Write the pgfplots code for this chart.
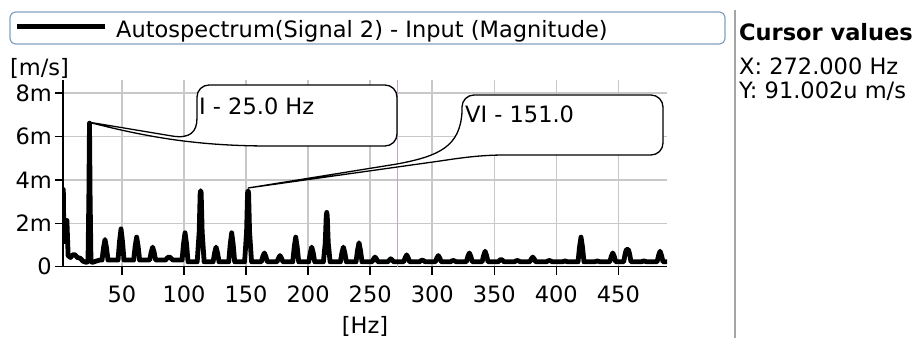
\documentclass[border=0pt]{standalone}
\usepackage{fontspec}
\setmainfont{DejaVu Sans}
\usepackage{pgfplots}
\pgfplotsset{compat=1.18}
\definecolor{gridc}{RGB}{200,200,200}
\definecolor{legbord}{RGB}{130,160,190}
\definecolor{cursc}{RGB}{200,160,200}
\definecolor{sepc}{RGB}{165,165,165}
\newcommand{\fs}{\fontsize{22.5bp}{27bp}\selectfont}
\begin{document}
\begin{tikzpicture}
\path[use as bounding box] (0bp,0bp) rectangle (920bp,338bp);
\begin{axis}[
  at={(63bp,71.4bp)}, anchor=south west,
  scale only axis, width=604bp, height=186.6bp,
  xmin=2.45, xmax=489.2, ymin=0, ymax=8.61,
  axis lines=left, axis line style={-, line width=1.5bp, black},
  xtick={50,100,...,450}, ytick={0,2,4,6,8},
  yticklabels={0,2m,4m,6m,8m},
  grid=major, major grid style={gridc, line width=1.5bp},
  tick align=outside, major tick length=8bp,
  tick style={black, line width=1.5bp},
  ticklabel style={font=\fs},
  /pgf/number format/assume math mode=true,
  xticklabel style={anchor=base, inner sep=0pt, yshift=-27.4bp},
  yticklabel style={anchor=east, inner sep=0pt, xshift=-3bp},
]
\draw[cursc, line width=0.9bp] (axis cs:272,0) -- (axis cs:272,8.61);
\addplot[black, line width=4.8bp, line join=round, line cap=round] coordinates {
(2.0,3.56) (2.7,3.56) (3.2,1.15) (4.0,1.3) (5.0,2.13) (5.6,2.13) (6.6,0.5) (8.5,0.42) (10.5,0.55) (12,0.55) (14,0.42) (16.5,0.38) (18.5,0.25) (21,0.2) (22.6,0.22) (23.3,3.2) (23.8,6.62) (24.3,3.2) (25,0.22) (26.5,0.2) (29,0.25) (32,0.3) (33.9,0.3) (35.1,0.87) (36.3,1.25) (37.5,0.87) (38.7,0.3)
(46.8,0.3) (48.0,1.16) (49.2,1.74) (50.4,1.16) (51.6,0.3)
(59.4,0.3) (60.6,0.94) (61.8,1.36) (63.0,0.94) (64.2,0.3)
(72.3,0.3) (73.5,0.66) (74.7,0.9) (75.9,0.66) (77.1,0.3)
(85,0.3) (86.5,0.4) (87.9,0.45) (89.3,0.4) (91,0.3)
(98.4,0.3) (99.6,1.06) (100.8,1.56) (102.0,1.06) (103.2,0.22)
(110.6,0.22) (112.2,1.6) (113.0,3.4) (113.4,3.5) (113.8,3.4) (114.6,1.6) (116.2,0.22)
(123.4,0.22) (124.6,0.63) (125.8,0.9) (127.0,0.63) (128.2,0.22)
(136.0,0.22) (137.2,1.02) (138.4,1.56) (139.6,1.02) (140.8,0.22)
(148.8,0.22) (150.4,1.6) (151.2,3.4) (151.6,3.5) (152.0,3.4) (152.8,1.6) (154.4,0.22)
(162.3,0.22) (163.5,0.47) (164.7,0.63) (165.9,0.47) (167.1,0.22)
(174.9,0.22) (176.1,0.39) (177.3,0.51) (178.5,0.39) (179.7,0.22)
(187.6,0.22) (188.8,0.9) (190,1.36) (191.2,0.9) (192.4,0.22)
(200.5,0.22) (201.7,0.63) (202.9,0.9) (204.1,0.63) (205.3,0.22)
(212.3,0.22) (213.8,1.1) (214.6,2.35) (215,2.5) (215.4,2.35) (216.2,1.1) (217.7,0.22)
(226.0,0.22) (227.2,0.63) (228.4,0.9) (229.6,0.63) (230.8,0.22)
(238.6,0.22) (239.8,0.75) (241,1.1) (242.2,0.75) (243.4,0.22)
(251.5,0.22) (252.7,0.35) (253.9,0.44) (255.1,0.35) (256.3,0.22)
(264.2,0.22) (265.4,0.3) (266.6,0.36) (267.8,0.3) (269.0,0.22)
(277.0,0.22) (278.2,0.41) (279.4,0.54) (280.6,0.41) (281.8,0.22)
(289.6,0.22) (290.8,0.27) (292,0.3) (293.2,0.27) (294.4,0.22)
(302.5,0.22) (303.7,0.39) (304.9,0.51) (306.1,0.39) (307.3,0.22)
(314.6,0.22) (315.8,0.26) (317,0.28) (318.2,0.26) (319.4,0.22)
(327.5,0.22) (328.7,0.47) (329.9,0.63) (331.1,0.47) (332.3,0.22)
(340.2,0.22) (341.4,0.51) (342.6,0.71) (343.8,0.51) (345.0,0.22)
(353.1,0.22) (354.3,0.29) (355.5,0.33) (356.7,0.29) (357.9,0.22)
(366.2,0.22) (367.4,0.26) (368.6,0.28) (369.8,0.26) (371.0,0.22)
(378.6,0.22) (379.8,0.35) (381,0.44) (382.2,0.35) (383.4,0.22)
(392.0,0.22) (393.2,0.26) (394.4,0.28) (395.6,0.26) (396.8,0.22)
(404.6,0.22) (405.8,0.24) (407,0.26) (408.2,0.24) (409.4,0.22)
(417.5,0.22) (418.7,0.9) (419.9,1.36) (421.1,0.9) (422.3,0.22)
(430.7,0.22) (431.9,0.24) (433.1,0.26) (434.3,0.24) (435.5,0.22)
(443.1,0.22) (444.3,0.47) (445.5,0.63) (446.7,0.47) (447.9,0.22)
(454.3,0.22) (455.5,0.6) (456.5,0.79) (458,0.79) (459.0,0.6) (460.2,0.22)
(468.2,0.22) (469.4,0.24) (470.6,0.26) (471.8,0.24) (473.0,0.22)
(481.2,0.22) (482.4,0.51) (483.6,0.71) (484.8,0.51) (486.0,0.22)
(490,0.22)
};
\end{axis}
% balloon 1
\filldraw[fill=white, draw=black, line width=1.3bp]
 (88bp,216bp) -- (172bp,202bp) .. controls (190bp,199bp) and (197bp,206bp) .. (197bp,220bp)
 -- (197bp,241bp) arc[start angle=180, end angle=90, radius=12bp]
 -- (385bp,253bp) arc[start angle=90, end angle=0, radius=12bp]
 -- (397bp,204bp) arc[start angle=0, end angle=-90, radius=12bp]
 -- (270bp,192bp) .. controls (200bp,192bp) and (150bp,200bp) .. cycle;
\node[anchor=base west, inner sep=0pt, font=\fs] at (199bp,223bp) {I - 25.0 Hz};
% balloon 2
\filldraw[fill=white, draw=black, line width=1.3bp]
 (248bp,150bp) -- (397bp,174bp) .. controls (440bp,182bp) and (460bp,192bp) .. (462bp,226bp)
 -- (462bp,231bp) arc[start angle=180, end angle=90, radius=12bp]
 -- (651bp,243bp) arc[start angle=90, end angle=0, radius=12bp]
 -- (663bp,195bp) arc[start angle=0, end angle=-90, radius=12bp]
 -- (505bp,183bp) .. controls (480bp,183bp) and (460bp,180bp) .. (440bp,177bp) -- cycle;
\node[anchor=base west, inner sep=0pt, font=\fs] at (465bp,215bp) {VI - 151.0};
% axis unit labels
\node[anchor=base west, inner sep=0pt, font=\fs] at (10bp,262bp) {[m/s]};
\node[anchor=base, inner sep=0pt, font=\fs] at (365bp,5bp) {[Hz]};
% legend
\draw[legbord, line width=1.2bp, rounded corners=6bp] (10bp,294bp) rectangle (725bp,326bp);
\draw[black, line width=5bp] (17bp,311bp) -- (105bp,311bp);
\node[anchor=base west, inner sep=0pt, font=\fs] at (116bp,300bp) {Autospectrum(Signal 2) - Input (Magnitude)};
% right panel
\draw[sepc, line width=2bp] (735bp,0bp) -- (735bp,328bp);
\node[anchor=base west, inner sep=0pt, font=\fs\bfseries] at (739bp,297bp) {Cursor values};
\node[anchor=base west, inner sep=0pt, font=\fs] at (739bp,263bp) {X: 272.000 Hz};
\node[anchor=base west, inner sep=0pt, font=\fs] at (739bp,239bp) {Y: 91.002u m/s};
\end{tikzpicture}
\end{document}
